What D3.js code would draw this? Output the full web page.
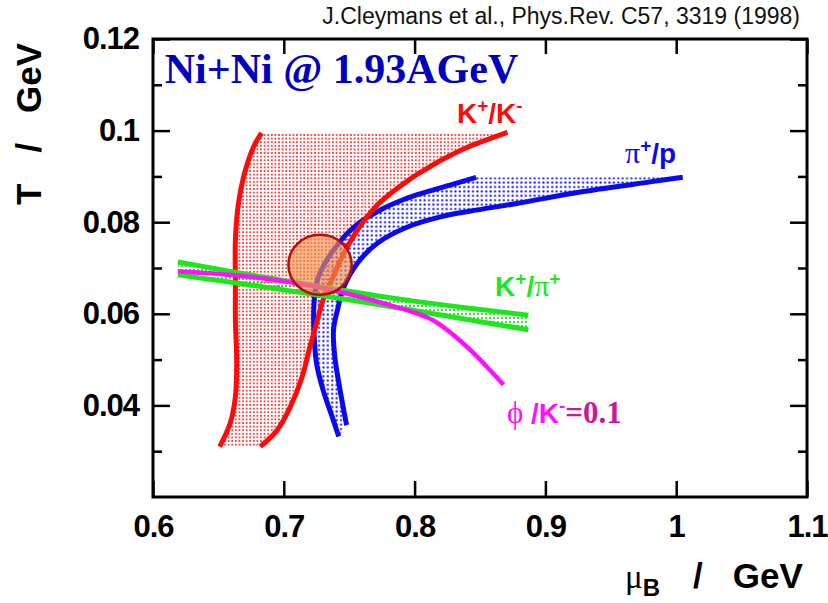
<!DOCTYPE html>
<html>
<head>
<meta charset="utf-8">
<script src="https://cdn.jsdelivr.net/npm/d3@7"></script>
<style>
  body { margin: 0; background: #fff; }
  text { font-family: "Liberation Sans", Arial, sans-serif; }
</style>
</head>
<body>
<div id="app"></div>
<script>
// Axis ticks
const xTicks = [0.6, 0.7, 0.8, 0.9, 1.0, 1.1];
const xTickLabels = ['0.6', '0.7', '0.8', '0.9', '1', '1.1'];
const yTicks = [0.04, 0.06, 0.08, 0.1, 0.12];
const yTickLabels = ['0.04', '0.06', '0.08', '0.1', '0.12'];
const yMinorTicks = [0.03, 0.05, 0.07, 0.09, 0.11];

// K+/K- band, [muB, T], both edges from bottom to top
const kkLeft = [[0.651, 0.031], [0.659, 0.0361], [0.663, 0.0419], [0.664, 0.0492], [0.663, 0.0586],
  [0.663, 0.0659], [0.663, 0.0761], [0.665, 0.0834], [0.670, 0.0907], [0.677, 0.0965], [0.683, 0.0995]];
const kkRight = [[0.682, 0.031], [0.695, 0.0346], [0.705, 0.0397], [0.714, 0.0462], [0.720, 0.0528],
  [0.725, 0.0579], [0.730, 0.063], [0.738, 0.0683], [0.745, 0.0727], [0.753, 0.0768], [0.761, 0.0802],
  [0.771, 0.0836], [0.784, 0.0868], [0.796, 0.0893], [0.807, 0.0913], [0.822, 0.0938], [0.840, 0.0963],
  [0.871, 0.0996]];

// pi+/p band
const piPOuter = [[0.742, 0.0332], [0.737, 0.0375], [0.730, 0.0434], [0.725, 0.0492], [0.723, 0.0565],
  [0.723, 0.0616], [0.725, 0.0667], [0.730, 0.0703], [0.738, 0.0739], [0.746, 0.0768], [0.756, 0.0795],
  [0.766, 0.0814], [0.776, 0.0830], [0.786, 0.0843], [0.802, 0.0860], [0.827, 0.0881], [0.847, 0.0898]];
const piPInner = [[0.748, 0.0357], [0.743, 0.0434], [0.739, 0.0506], [0.738, 0.0565], [0.741, 0.0608],
  [0.746, 0.0659], [0.757, 0.0713], [0.772, 0.0755], [0.795, 0.079], [0.819, 0.0811], [0.842, 0.0824],
  [0.878, 0.0841], [0.929, 0.0867], [0.980, 0.0888], [1.005, 0.0898]];

// K+/pi+ band
const kPiUpper = [[0.619, 0.0713], [0.689, 0.0678], [0.789, 0.0632], [0.887, 0.0597]];
const kPiLower = [[0.619, 0.0685], [0.674, 0.0663], [0.751, 0.063], [0.827, 0.0594], [0.887, 0.0565]];

// phi/K- = 0.1
const phiK = [[0.619, 0.0693], [0.674, 0.0681], [0.725, 0.0659], [0.776, 0.0623], [0.814, 0.0586],
  [0.840, 0.0528], [0.855, 0.0485], [0.868, 0.0445]];

// freeze-out point with its uncertainty
const fitCenter = [0.7277, 0.0707];
const fitError = [0.0242, 0.00655];

// where each label starts [muB, T]
const labelKK = [0.8324, 0.1017];
const labelPiP = [0.9609, 0.0929];
const labelKPi = [0.8615, 0.0639];
const labelPhi = [0.8706, 0.0361];
const labelTitle = [0.609, 0.1103];

const width = 828;
const height = 603;
const margin = { top: 39, right: 21, bottom: 106, left: 153 };

const svg = d3.select('#app').append('svg')
  .attr('width', width)
  .attr('height', height);

const x = d3.scaleLinear().domain([0.6, 1.1]).range([margin.left, width - margin.right]);
const y = d3.scaleLinear().domain([0.02, 0.12]).range([height - margin.bottom, margin.top]);

const defs = svg.append('defs');

// dotted fills like the original
function dotPattern(id, color, step, r) {
  const p = defs.append('pattern')
    .attr('id', id)
    .attr('patternUnits', 'userSpaceOnUse')
    .attr('width', step)
    .attr('height', step);
  p.append('circle')
    .attr('cx', step / 2)
    .attr('cy', step / 2)
    .attr('r', r)
    .attr('fill', color);
}
dotPattern('dotsRed', '#ff1010', 3.6, 0.95);
dotPattern('dotsBlue', '#1010ff', 4.4, 1.1);
dotPattern('dotsGreen', '#10e010', 4, 1.05);

const smooth = d3.line()
  .x(d => x(d[0]))
  .y(d => y(d[1]))
  .curve(d3.curveCatmullRom.alpha(0.5));

function bandPath(a, b) {
  return smooth(a) + smooth(b.slice().reverse()).replace(/^M/, 'L') + 'Z';
}

const plot = svg.append('g');

plot.append('path').attr('d', bandPath(kkLeft, kkRight)).attr('fill', 'url(#dotsRed)');
plot.append('path').attr('d', bandPath(piPOuter, piPInner)).attr('fill', 'url(#dotsBlue)');
plot.append('path').attr('d', bandPath(kPiUpper, kPiLower)).attr('fill', 'url(#dotsGreen)');

function curve(data, color, w) {
  plot.append('path')
    .attr('d', smooth(data))
    .attr('fill', 'none')
    .attr('stroke', color)
    .attr('stroke-width', w);
}
curve(piPOuter, '#0a0aee', 5);
curve(piPInner, '#0a0aee', 5);
curve(kkLeft, '#ff0a0a', 5);
curve(kkRight, '#ff0a0a', 5);
curve(kPiUpper, '#1ee61e', 5);
curve(kPiLower, '#1ee61e', 5);
curve(phiK, '#ff10ff', 4.5);

plot.append('ellipse')
  .attr('cx', x(fitCenter[0]))
  .attr('cy', y(fitCenter[1]))
  .attr('rx', x(fitCenter[0] + fitError[0]) - x(fitCenter[0]))
  .attr('ry', y(fitCenter[1]) - y(fitCenter[1] + fitError[1]))
  .attr('fill', '#f39048')
  .attr('fill-opacity', 0.65)
  .attr('stroke', '#b01010')
  .attr('stroke-width', 2.5);

// axes with ticks pointing inward
function styleAxis(g) {
  g.select('.domain').remove();
  g.selectAll('line').attr('stroke', '#000').attr('stroke-width', 2.5);
  g.selectAll('text')
    .attr('fill', '#000')
    .style('font-family', '"Liberation Sans", Arial, sans-serif')
    .style('font-weight', 'bold')
    .style('font-size', '31px')
    .style('letter-spacing', '-1px');
}
const fmtX = d => xTickLabels[xTicks.indexOf(d)];
const fmtY = d => yTickLabels[yTicks.indexOf(d)];

svg.append('g')
  .attr('transform', `translate(0,${height - margin.bottom})`)
  .call(d3.axisBottom(x).tickValues(xTicks).tickFormat(fmtX).tickSize(-16).tickPadding(18))
  .call(styleAxis);
svg.append('g')
  .attr('transform', `translate(0,${margin.top})`)
  .call(d3.axisTop(x).tickValues(xTicks).tickFormat('').tickSize(-15))
  .call(styleAxis);
svg.append('g')
  .attr('transform', `translate(${margin.left},0)`)
  .call(d3.axisLeft(y).tickValues(yTicks).tickFormat(fmtY).tickSize(-17).tickPadding(14))
  .call(styleAxis);
svg.append('g')
  .attr('transform', `translate(${margin.left},0)`)
  .call(d3.axisLeft(y).tickValues(yMinorTicks).tickFormat('').tickSize(-9))
  .call(styleAxis);
svg.append('g')
  .attr('transform', `translate(${width - margin.right},0)`)
  .call(d3.axisRight(y).tickValues(yTicks).tickFormat('').tickSize(-17))
  .call(styleAxis);
svg.append('g')
  .attr('transform', `translate(${width - margin.right},0)`)
  .call(d3.axisRight(y).tickValues(yMinorTicks).tickFormat('').tickSize(-9))
  .call(styleAxis);

svg.append('rect')
  .attr('x', margin.left)
  .attr('y', margin.top)
  .attr('width', width - margin.left - margin.right)
  .attr('height', height - margin.top - margin.bottom)
  .attr('fill', 'none')
  .attr('stroke', '#000')
  .attr('stroke-width', 3);

const serif = '"Liberation Serif", "Times New Roman", serif';

// axis titles
const xTitle = svg.append('text')
  .attr('x', 625)
  .attr('y', 588)
  .attr('font-weight', 'bold')
  .attr('font-size', 35);
xTitle.append('tspan').text('\u03bc')
  .style('font-family', serif)
  .attr('font-weight', 'normal')
  .attr('font-size', 33);
xTitle.append('tspan').text('B').attr('font-size', 24).attr('dy', 8);
xTitle.append('tspan').text('/').attr('dx', 33).attr('dy', -8);
xTitle.append('tspan').text('GeV').attr('dx', 30);

const yTitle = svg.append('text')
  .attr('transform', 'translate(41,205) rotate(-90)')
  .attr('font-weight', 'bold')
  .attr('font-size', 35);
yTitle.append('tspan').text('T');
yTitle.append('tspan').text('/').attr('dx', 31);
yTitle.append('tspan').text('GeV').attr('dx', 30);

svg.append('text')
  .attr('x', 800)
  .attr('y', 24)
  .attr('text-anchor', 'end')
  .attr('font-size', 23)
  .attr('fill', '#111')
  .text('J.Cleymans et al., Phys.Rev. C57, 3319 (1998)');

svg.append('text')
  .attr('x', x(labelTitle[0]))
  .attr('y', y(labelTitle[1]))
  .style('font-family', serif)
  .attr('font-weight', 'bold')
  .attr('font-size', 42)
  .attr('fill', '#0000c0')
  .text('Ni+Ni @ 1.93AGeV');

// curve labels
function label(pos, color, parts) {
  const t = svg.append('text')
    .attr('x', x(pos[0]))
    .attr('y', y(pos[1]))
    .attr('font-weight', 'bold')
    .attr('font-size', 28)
    .attr('fill', color);
  parts.forEach(p => {
    const s = t.append('tspan').text(p.text);
    if (p.sup) s.attr('font-size', 19).attr('dy', -11);
    if (p.back) s.attr('dy', 11);
    if (p.serif) s.style('font-family', serif);
    if (p.normal) s.attr('font-weight', 'normal');
    if (p.fill) s.attr('fill', p.fill);
    if (p.size) s.attr('font-size', p.size);
  });
}
label(labelKK, '#ff0a0a', [
  { text: 'K' }, { text: '+', sup: true }, { text: '/K', back: true }, { text: '-', sup: true },
]);
label(labelPiP, '#0a0aee', [
  { text: '\u03c0', serif: true, normal: true, size: 30 }, { text: '+', sup: true }, { text: '/p', back: true },
]);
label(labelKPi, '#1ee61e', [
  { text: 'K' }, { text: '+', sup: true }, { text: '/', back: true },
  { text: '\u03c0', serif: true, normal: true, size: 30 }, { text: '+', sup: true },
]);
label(labelPhi, '#ff10ff', [
  { text: '\u03d5 ', serif: true, normal: true, size: 31 }, { text: '/K' }, { text: '-', sup: true },
  { text: '=0.1', back: true, serif: true, fill: '#c8189c', size: 31 },
]);
</script>
</body>
</html>
